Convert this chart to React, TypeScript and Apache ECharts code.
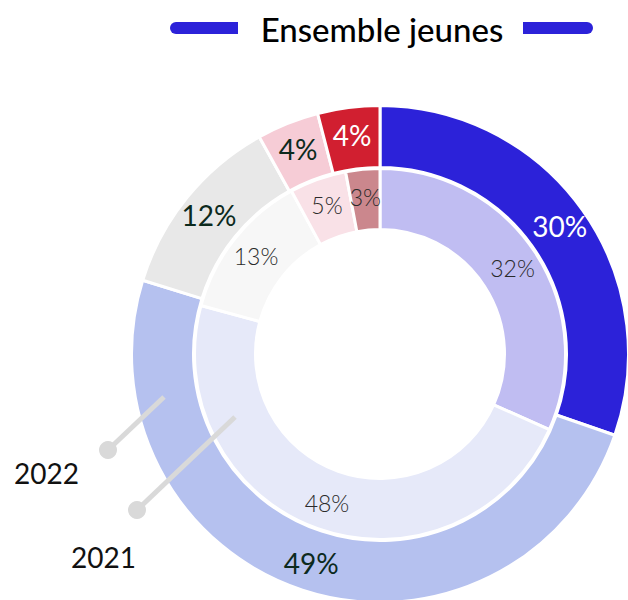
import React, { useEffect, useRef } from "react";
import * as echarts from "echarts";

const categories = ["Segment A", "Segment B", "Segment C", "Segment D", "Segment E"];
const values2022 = [30, 49, 12, 4, 4];
const values2021 = [32, 48, 13, 5, 3];
const colors2022 = ["#2c22d9", "#b5c1ef", "#e8e8e8", "#f6ccd6", "#d11f30"];
const colors2021 = ["#c0bdf2", "#e6e9f9", "#f7f7f7", "#f9e1e7", "#cb878d"];
const labelColors2022 = ["#ffffff", "#0c2a1d", "#0c2a1d", "#0c2a1d", "#ffffff"];
const title = "Ensemble jeunes";
const yearLabels = ["2022", "2021"];

const FONT = "Lato, 'Open Sans', sans-serif";

export default function App() {
  const ref = useRef<HTMLDivElement>(null);
  useEffect(() => {
    if (!ref.current) return;
    const chart = echarts.init(ref.current, null, { renderer: "svg" });
    const cx = 380;
    const cy = 354;
    chart.setOption({
      animation: false,
      backgroundColor: "#ffffff",
      series: [
        {
          type: "pie",
          center: [cx, cy],
          radius: [186.5, 248.5],
          startAngle: 90,
          clockwise: true,
          silent: true,
          itemStyle: { borderColor: "#ffffff", borderWidth: 3 },
          label: {
            show: true,
            position: "inside",
            formatter: "{c}%",
            fontFamily: FONT,
            fontWeight: 400,
            fontSize: 28,
            textBorderWidth: 0,
          },
          labelLine: { show: false },
          data: categories.map((n, i) => ({
            name: n,
            value: values2022[i],
            itemStyle: { color: colors2022[i] },
            label: { color: labelColors2022[i] },
          })),
        },
        {
          type: "pie",
          center: [cx, cy],
          radius: [124.5, 185.5],
          startAngle: 90,
          clockwise: true,
          silent: true,
          itemStyle: { borderColor: "#ffffff", borderWidth: 3 },
          label: {
            show: true,
            position: "inside",
            formatter: "{c}%",
            fontFamily: FONT,
            fontWeight: 300,
            fontSize: 23,
            color: "#2a2a2a",
            textBorderWidth: 0,
          },
          labelLine: { show: false },
          data: categories.map((n, i) => ({
            name: n,
            value: values2021[i],
            itemStyle: { color: colors2021[i] },
          })),
        },
      ],
      graphic: [
        {
          type: "rect",
          shape: { x: 170, y: 22, width: 68, height: 12, r: [6, 0, 0, 6] },
          style: { fill: "#2c22d9" },
          z: 10,
        },
        {
          type: "rect",
          shape: { x: 523, y: 22, width: 70, height: 12, r: [0, 6, 6, 0] },
          style: { fill: "#2c22d9" },
          z: 10,
        },
        {
          type: "text",
          x: 382,
          y: 29,
          z: 10,
          style: {
            text: title,
            fill: "#000000",
            font: `500 33px ${FONT}`,
            align: "center",
            verticalAlign: "middle",
          },
        },
        {
          type: "line",
          z: 10,
          shape: { x1: 108, y1: 450, x2: 164, y2: 397 },
          style: { stroke: "#d9d9d9", lineWidth: 5 },
        },
        {
          type: "circle",
          z: 10,
          shape: { cx: 108, cy: 450, r: 9 },
          style: { fill: "#d9d9d9" },
        },
        {
          type: "line",
          z: 10,
          shape: { x1: 137, y1: 510, x2: 235, y2: 417 },
          style: { stroke: "#d9d9d9", lineWidth: 5 },
        },
        {
          type: "circle",
          z: 10,
          shape: { cx: 137, cy: 510, r: 9 },
          style: { fill: "#d9d9d9" },
        },
        {
          type: "text",
          x: 14,
          y: 473,
          z: 10,
          style: {
            text: yearLabels[0],
            fill: "#111111",
            font: `400 28px ${FONT}`,
            align: "left",
            verticalAlign: "middle",
          },
        },
        {
          type: "text",
          x: 71,
          y: 557,
          z: 10,
          style: {
            text: yearLabels[1],
            fill: "#111111",
            font: `400 28px ${FONT}`,
            align: "left",
            verticalAlign: "middle",
          },
        },
      ],
    });
    return () => chart.dispose();
  }, []);
  return (
    <div
      ref={ref}
      style={{ position: "fixed", left: 0, top: 0, width: 628, height: 600 }}
    />
  );
}
